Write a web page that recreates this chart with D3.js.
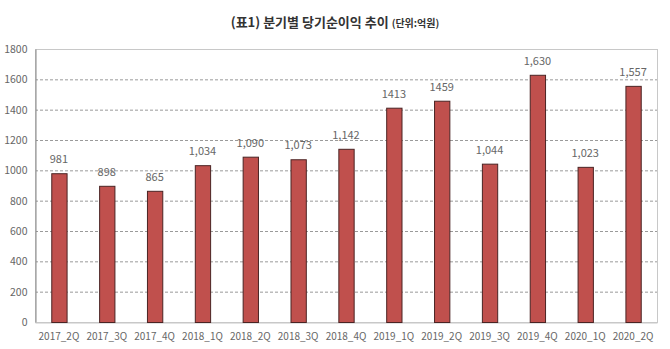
<!DOCTYPE html>
<html><head><meta charset="utf-8">
<script src="https://cdn.jsdelivr.net/npm/d3@7"></script>
<style>body{margin:0;background:#fff}svg{display:block}</style>
</head><body>
<script>
const categories = ["2017_2Q","2017_3Q","2017_4Q","2018_1Q","2018_2Q","2018_3Q","2018_4Q","2019_1Q","2019_2Q","2019_3Q","2019_4Q","2020_1Q","2020_2Q"];
const values = [981,898,865,1034,1090,1073,1142,1413,1459,1044,1630,1023,1557];
const valueLabels = ["981","898","865","1,034","1,090","1,073","1,142","1413","1459","1,044","1,630","1,023","1,557"];
const yTicks = [0,200,400,600,800,1000,1200,1400,1600,1800];

const W=670,H=349;
const m={left:35,right:13,top:49,bottom:27};
const svg=d3.select("body").append("svg").attr("width",W).attr("height",H);
const x=d3.scaleBand().domain(categories).range([m.left,W-m.right]).paddingInner(0.68).paddingOuter(0.34);
const y=d3.scaleLinear().domain([0,1800]).range([H-m.bottom,m.top]);
const font="'Noto Sans CJK KR','Noto Sans',sans-serif";

// gridlines
svg.append("g").selectAll("line").data(yTicks.filter(d=>d>0&&d<1800)).join("line")
 .attr("x1",m.left).attr("x2",W-m.right).attr("y1",d=>y(d)+0.5).attr("y2",d=>y(d)+0.5)
 .attr("stroke","#9a9a9a").attr("stroke-dasharray","3,2").attr("stroke-width",1);
// border
svg.append("rect").attr("x",m.left+0.5).attr("y",y(1800)+0.5).attr("width",W-m.right-m.left).attr("height",y(0)-y(1800))
 .attr("fill","none").attr("stroke","#c8c8c8");
// y axis
const ya=svg.append("g").attr("transform",`translate(${m.left+0.5},0)`).call(d3.axisLeft(y).tickValues(yTicks).tickFormat(d3.format("d")).tickSize(0).tickPadding(8));
ya.select(".domain").attr("stroke","#888");
ya.selectAll("text").attr("font-family",font).attr("font-size",10.5).attr("fill","#666");
// x axis
const xa=svg.append("g").attr("transform",`translate(0,${y(0)+0.5})`).call(d3.axisBottom(x).tickSize(0).tickPadding(10));
xa.select(".domain").attr("stroke","#c8c8c8");
xa.selectAll("text").attr("font-family",font).attr("font-size",10).attr("fill","#666");
// bars
svg.append("g").selectAll("rect").data(values).join("rect")
 .attr("x",(d,i)=>x(categories[i])+0.5).attr("y",d=>y(d)+0.5).attr("width",x.bandwidth()).attr("height",d=>y(0)-y(d))
 .attr("fill","#c0504d").attr("stroke","#4a2424").attr("stroke-width",1);
// value labels
svg.append("g").selectAll("text").data(values).join("text")
 .attr("x",(d,i)=>x(categories[i])+x.bandwidth()/2).attr("y",d=>y(d)-10)
 .attr("text-anchor","middle").attr("font-family",font).attr("font-size",11).attr("fill","#666")
 .text((d,i)=>valueLabels[i]);
// title
const t=svg.append("text").attr("x",335).attr("y",27).attr("text-anchor","middle").attr("font-family",font).attr("fill","#333");
t.append("tspan").attr("font-size",13).attr("font-weight","bold").text("(표1) 분기별 당기순이익 추이 ");
t.append("tspan").attr("font-size",10).attr("font-weight","bold").text("(단위:억원)");
</script>
</body></html>
